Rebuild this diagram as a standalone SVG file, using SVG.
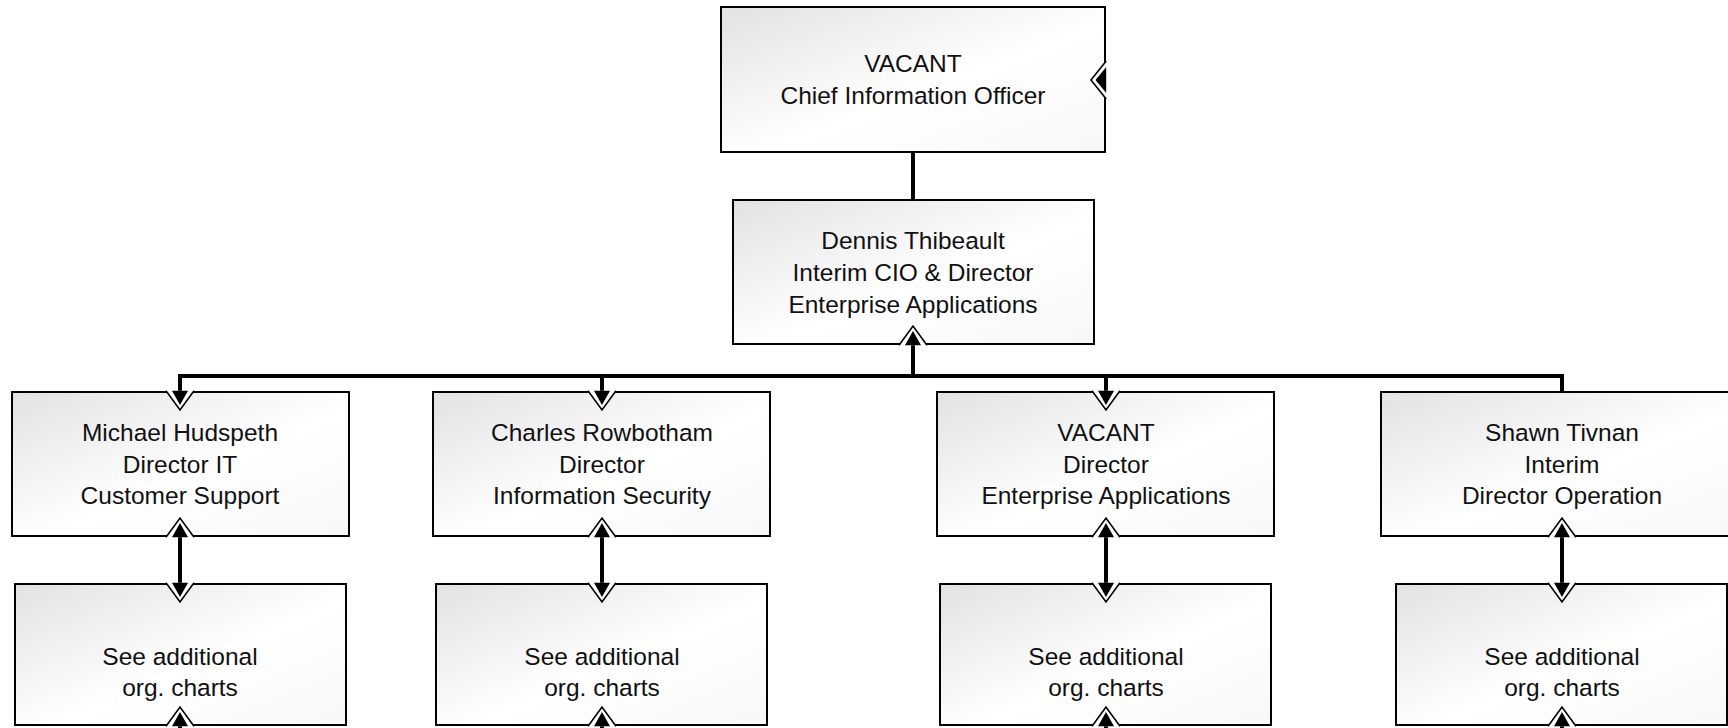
<svg xmlns="http://www.w3.org/2000/svg" xmlns:xlink="http://www.w3.org/1999/xlink" width="1728" height="728" viewBox="0 0 1728 728">
  <style>
    .box { fill: url(#boxFill); stroke: #000; stroke-width: 2; }
    .label { font-family: "Liberation Sans", Arial, sans-serif; font-size: 24.5px; fill: #111; text-anchor: middle; }
    .wire { stroke: #000; stroke-width: 4; fill: none; }
    .halo { fill: #fff; stroke: #000; stroke-width: 1.6; stroke-linejoin: miter; }
    .head { fill: #000; }
  </style>
  <defs>
    <linearGradient id="boxFill" x1="0" y1="0" x2="1" y2="1">
      <stop offset="0" stop-color="#e2e2e2"/>
      <stop offset="0.55" stop-color="#ffffff"/>
      <stop offset="1" stop-color="#f7f7f7"/>
    </linearGradient>
    <!-- arrowhead pointing up, origin at the middle of its base -->
    <g id="arrow-up">
      <path class="halo" d="M-14,1.2 L0,-18 L14,1.2"/>
      <polygon class="head" points="0,-13 8,1.2 -8,1.2"/>
    </g>
    <!-- arrowhead pointing down, origin at the middle of its base -->
    <g id="arrow-down">
      <path class="halo" d="M-14,-1.2 L0,18 L14,-1.2"/>
      <polygon class="head" points="0,13 8,-1.2 -8,-1.2"/>
    </g>
  </defs>

  <rect width="1728" height="728" fill="#fff"/>

  <!-- nodes -->
  <g id="cio">
    <rect class="box" x="721" y="7" width="384" height="145"/>
    <text class="label" x="913" y="72">VACANT</text>
    <text class="label" x="913" y="104">Chief Information Officer</text>
    <!-- side port marker on the right edge -->
    <path class="halo" d="M1106.2,61 L1091,80 L1106.2,99"/>
    <polygon class="head" points="1095.5,80 1106.2,67 1106.2,93"/>
  </g>

  <g id="interim-cio">
    <rect class="box" x="733" y="200" width="361" height="144"/>
    <text class="label" x="913" y="249">Dennis Thibeault</text>
    <text class="label" x="913" y="281">Interim CIO &amp; Director</text>
    <text class="label" x="913" y="313">Enterprise Applications</text>
  </g>

  <g id="dir-customer-support">
    <rect class="box" x="12" y="392" width="337" height="144"/>
    <text class="label" x="180" y="441">Michael Hudspeth</text>
    <text class="label" x="180" y="473">Director IT</text>
    <text class="label" x="180" y="504">Customer Support</text>
  </g>

  <g id="dir-info-security">
    <rect class="box" x="433" y="392" width="337" height="144"/>
    <text class="label" x="602" y="441">Charles Rowbotham</text>
    <text class="label" x="602" y="473">Director</text>
    <text class="label" x="602" y="504">Information Security</text>
  </g>

  <g id="dir-enterprise-apps">
    <rect class="box" x="937" y="392" width="337" height="144"/>
    <text class="label" x="1106" y="441">VACANT</text>
    <text class="label" x="1106" y="473">Director</text>
    <text class="label" x="1106" y="504">Enterprise Applications</text>
  </g>

  <g id="dir-operation">
    <rect class="box" x="1381" y="392" width="362" height="144"/>
    <text class="label" x="1562" y="441">Shawn Tivnan</text>
    <text class="label" x="1562" y="473">Interim</text>
    <text class="label" x="1562" y="504">Director Operation</text>
  </g>

  <g id="charts-customer-support">
    <rect class="box" x="15" y="584" width="331" height="141"/>
    <text class="label" x="180" y="665">See additional</text>
    <text class="label" x="180" y="696">org. charts</text>
  </g>

  <g id="charts-info-security">
    <rect class="box" x="436" y="584" width="331" height="141"/>
    <text class="label" x="602" y="665">See additional</text>
    <text class="label" x="602" y="696">org. charts</text>
  </g>

  <g id="charts-enterprise-apps">
    <rect class="box" x="940" y="584" width="331" height="141"/>
    <text class="label" x="1106" y="665">See additional</text>
    <text class="label" x="1106" y="696">org. charts</text>
  </g>

  <g id="charts-operation">
    <rect class="box" x="1396" y="584" width="331" height="141"/>
    <text class="label" x="1562" y="665">See additional</text>
    <text class="label" x="1562" y="696">org. charts</text>
  </g>

  <!-- connectors -->
  <g id="connectors">
    <line class="wire" x1="913" y1="152" x2="913" y2="200"/>
    <polyline class="wire" points="180,392 180,376 1562,376 1562,392"/>
    <line class="wire" x1="913" y1="376" x2="913" y2="344"/>
    <line class="wire" x1="602" y1="376" x2="602" y2="392"/>
    <line class="wire" x1="1106" y1="376" x2="1106" y2="392"/>

    <line class="wire" x1="180" y1="536" x2="180" y2="584"/>
    <line class="wire" x1="602" y1="536" x2="602" y2="584"/>
    <line class="wire" x1="1106" y1="536" x2="1106" y2="584"/>
    <line class="wire" x1="1562" y1="536" x2="1562" y2="584"/>

    <line class="wire" x1="180" y1="725" x2="180" y2="728"/>
    <line class="wire" x1="602" y1="725" x2="602" y2="728"/>
    <line class="wire" x1="1106" y1="725" x2="1106" y2="728"/>
    <line class="wire" x1="1562" y1="725" x2="1562" y2="728"/>

    <use xlink:href="#arrow-up" x="913" y="344"/>
    <use xlink:href="#arrow-down" x="180" y="392"/>
    <use xlink:href="#arrow-down" x="602" y="392"/>
    <use xlink:href="#arrow-down" x="1106" y="392"/>

    <use xlink:href="#arrow-up" x="180" y="536"/>
    <use xlink:href="#arrow-up" x="602" y="536"/>
    <use xlink:href="#arrow-up" x="1106" y="536"/>
    <use xlink:href="#arrow-up" x="1562" y="536"/>

    <use xlink:href="#arrow-down" x="180" y="584"/>
    <use xlink:href="#arrow-down" x="602" y="584"/>
    <use xlink:href="#arrow-down" x="1106" y="584"/>
    <use xlink:href="#arrow-down" x="1562" y="584"/>

    <use xlink:href="#arrow-up" x="180" y="725"/>
    <use xlink:href="#arrow-up" x="602" y="725"/>
    <use xlink:href="#arrow-up" x="1106" y="725"/>
    <use xlink:href="#arrow-up" x="1562" y="725"/>
  </g>
</svg>
